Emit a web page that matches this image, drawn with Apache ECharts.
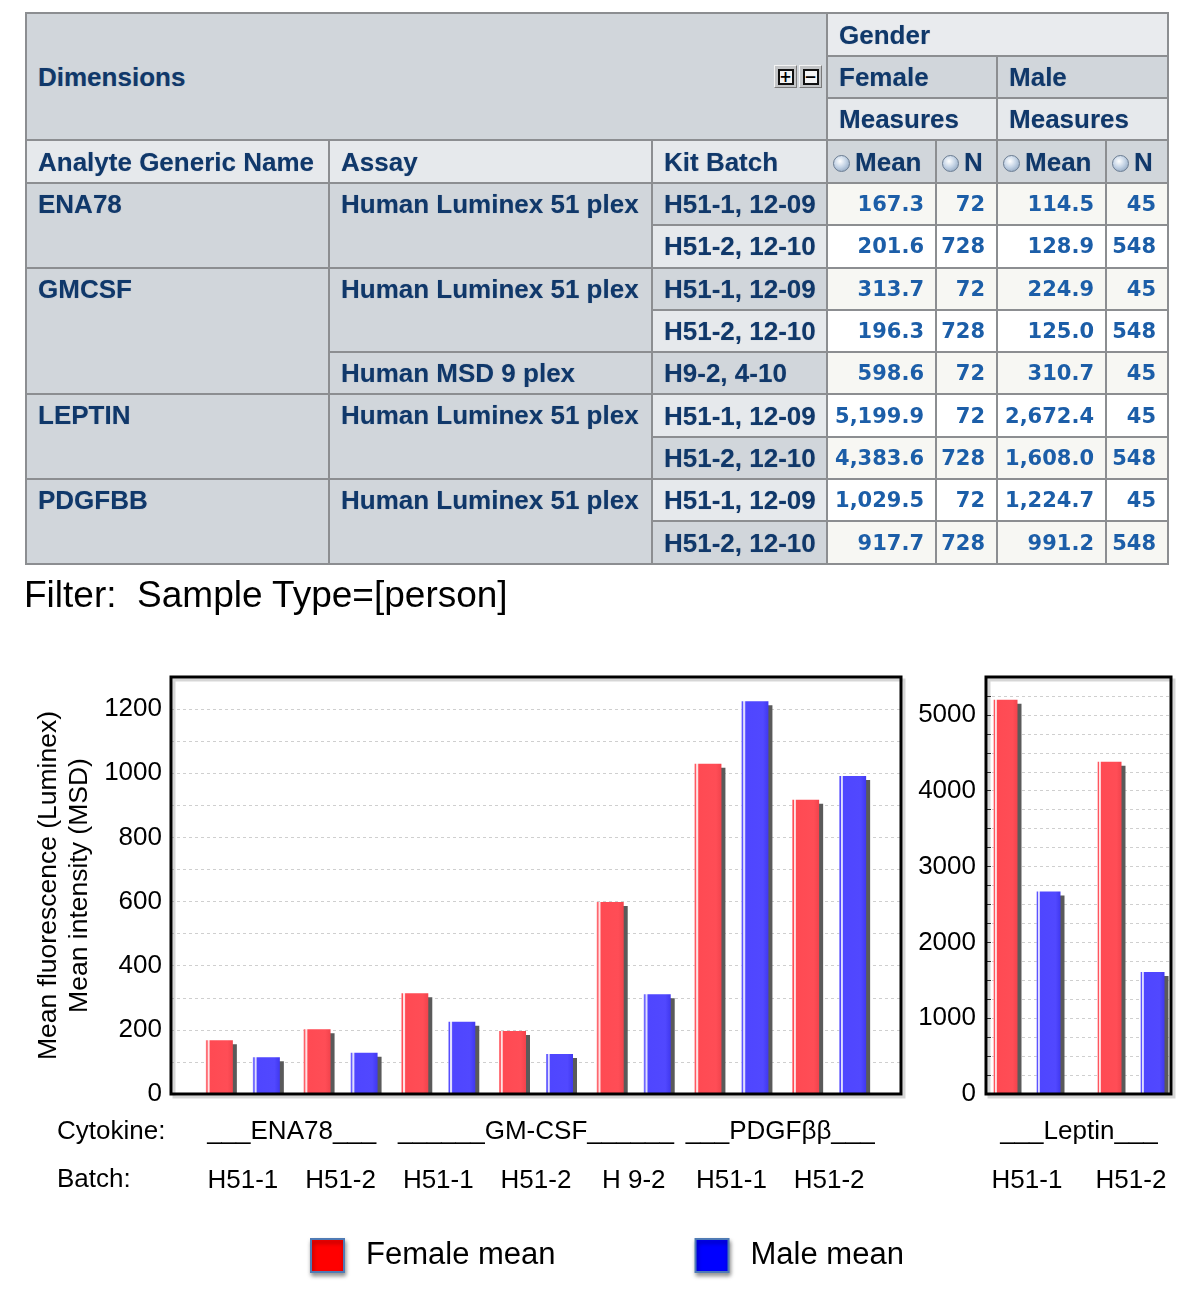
<!DOCTYPE html>
<html>
<head>
<meta charset="utf-8">
<script src="https://cdn.jsdelivr.net/npm/echarts@6/dist/echarts.min.js"></script>
<style>
html,body{margin:0;padding:0;background:#fff;width:1200px;height:1296px;overflow:hidden}
#chart{position:absolute;left:0;top:0;width:1200px;height:1296px}
#tbl{position:absolute;left:25px;top:12px;border-collapse:collapse;table-layout:fixed;width:1142px;
  font-family:"Liberation Sans",Arial,sans-serif;border:2px solid #6f7174}
#tbl td{border:2px solid #8c8e91;padding:0 0 0 11px;font-weight:bold;font-size:26px;color:#10386a;
  white-space:nowrap;overflow:hidden;line-height:38px;vertical-align:middle;text-shadow:0 0 1px rgba(16,56,106,0.35)}
#tbl td.dk{background:#d1d6db}
#tbl td.lt{background:#e6e9ec}
#tbl td.gd{background:#e9ebee}
#tbl td.top{vertical-align:top;line-height:40px}
#tbl td.v{font-family:"DejaVu Sans",Verdana,sans-serif;font-size:21px;color:#1c5ea8;text-align:right;padding:0 11px 0 0;text-shadow:none}
#tbl td.v1{background:#f7f7f3}
#tbl td.v2{background:#ffffff}
#tbl td.m{padding-left:5px}
.dimwrap{display:flex;justify-content:space-between;align-items:center;padding-right:4px}
.btns{display:flex;gap:2px}
.btn{display:inline-flex;width:23px;height:23px;background:#c4c6c8;border:1px solid;border-color:#f4f4f4 #7a7a7a #7a7a7a #f4f4f4;
  align-items:center;justify-content:center;box-sizing:border-box}
.btn i{display:flex;width:16px;height:16px;border:2px solid #111;background:#f4f4f4;box-sizing:border-box;align-items:center;justify-content:center;
  font-style:normal;font-family:"DejaVu Sans",sans-serif;font-size:15px;line-height:10px;color:#000;font-weight:bold;text-shadow:none}
.radio{display:inline-block;width:17px;height:17px;border-radius:50%;box-sizing:border-box;border:1px solid #6c7d92;
  background:radial-gradient(circle at 40% 35%,#ffffff 0%,#c5d4e6 45%,#7f97b3 100%);vertical-align:-1px;margin-right:5px}
#filter{position:absolute;left:24px;top:577px;font-family:"Liberation Sans",Arial,sans-serif;font-size:37px;line-height:36px;color:#000;white-space:pre}
</style>
</head>
<body>
<div id="chart"></div>
<table id="tbl"></table>
<div id="filter">Filter:  Sample Type=[person]</div>
<script>
// ---------------- data ----------------
const rowAnalyte  = ['ENA78','ENA78','GMCSF','GMCSF','GMCSF','LEPTIN','LEPTIN','PDGFBB','PDGFBB'];
const rowAssay    = ['Human Luminex 51 plex','Human Luminex 51 plex','Human Luminex 51 plex','Human Luminex 51 plex',
                     'Human MSD 9 plex','Human Luminex 51 plex','Human Luminex 51 plex','Human Luminex 51 plex','Human Luminex 51 plex'];
const rowKitBatch = ['H51-1, 12-09','H51-2, 12-10','H51-1, 12-09','H51-2, 12-10','H9-2, 4-10',
                     'H51-1, 12-09','H51-2, 12-10','H51-1, 12-09','H51-2, 12-10'];
const femaleMean  = [167.3, 201.6, 313.7, 196.3, 598.6, 5199.9, 4383.6, 1029.5, 917.7];
const femaleN     = [72, 728, 72, 728, 72, 72, 728, 72, 728];
const maleMean    = [114.5, 128.9, 224.9, 125.0, 310.7, 2672.4, 1608.0, 1224.7, 991.2];
const maleN       = [45, 548, 45, 548, 45, 45, 548, 45, 548];

// chart selections (row indices of the table)
const leftRows  = [0, 1, 2, 3, 4, 7, 8];
const rightRows = [5, 6];
const leftBatchLabels  = ['H51-1','H51-2','H51-1','H51-2','H 9-2','H51-1','H51-2'];
const rightBatchLabels = ['H51-1','H51-2'];
const cytokineLabels   = ['___ENA78___', '______GM-CSF______', '___PDGF\u03b2\u03b2___'];
const cytokineSpans    = [[0, 1], [2, 4], [5, 6]];
const rightCytokineLabel = '___Leptin___';
const leftTicks  = {max: 1300, minor: 100, major: 200};
const rightTicks = {max: 5500, minor: 250, major: 1000};
const seriesNames = ['Female mean', 'Male mean'];
const yAxisTitle = 'Mean fluorescence (Luminex)\nMean intensity (MSD)';

// ---------------- table ----------------
const colWidths = [303, 323, 175, 109, 61, 109, 62];
const fmt = v => v.toLocaleString('en-US', {minimumFractionDigits: 1, maximumFractionDigits: 1});
let h = '<colgroup>' + colWidths.map(w => `<col style="width:${w}px">`).join('') + '</colgroup>';
h += `<tr style="height:43px"><td class="dk" colspan="3" rowspan="3"><div class="dimwrap"><span>Dimensions</span>` +
     `<span class="btns"><span class="btn"><i>+</i></span><span class="btn"><i>\u2212</i></span></span></div></td>` +
     `<td class="gd" colspan="4">Gender</td></tr>`;
h += `<tr style="height:42px"><td class="dk" colspan="2">Female</td><td class="dk" colspan="2">Male</td></tr>`;
h += `<tr style="height:42px"><td class="lt" colspan="2">Measures</td><td class="lt" colspan="2">Measures</td></tr>`;
h += `<tr style="height:43px"><td class="lt">Analyte Generic Name</td><td class="lt">Assay</td><td class="lt">Kit Batch</td>` +
     `<td class="dk m"><span class="radio"></span>Mean</td><td class="dk m"><span class="radio"></span>N</td>` +
     `<td class="dk m"><span class="radio"></span>Mean</td><td class="dk m"><span class="radio"></span>N</td></tr>`;
for (let i = 0; i < rowAnalyte.length; i++) {
  let r = '<tr style="height:42.3px">';
  if (i === 0 || rowAnalyte[i] !== rowAnalyte[i - 1]) {
    let n = 1; while (i + n < rowAnalyte.length && rowAnalyte[i + n] === rowAnalyte[i]) n++;
    r += `<td class="dk top" rowspan="${n}">${rowAnalyte[i]}</td>`;
  }
  if (i === 0 || rowAnalyte[i] !== rowAnalyte[i - 1] || rowAssay[i] !== rowAssay[i - 1]) {
    let n = 1; while (i + n < rowAssay.length && rowAssay[i + n] === rowAssay[i] && rowAnalyte[i + n] === rowAnalyte[i]) n++;
    r += `<td class="dk top" rowspan="${n}">${rowAssay[i]}</td>`;
  }
  const vc = i % 2 === 0 ? 'v1' : 'v2';
  r += `<td class="${i % 2 === 0 ? 'dk' : 'lt'}">${rowKitBatch[i]}</td>`;
  r += `<td class="v ${vc}">${fmt(femaleMean[i])}</td><td class="v ${vc}">${femaleN[i]}</td>`;
  r += `<td class="v ${vc}">${fmt(maleMean[i])}</td><td class="v ${vc}">${maleN[i]}</td>`;
  r += '</tr>';
  h += r;
}
document.getElementById('tbl').innerHTML = h;

// ---------------- chart ----------------
const FONT = '"Liberation Sans", Arial, sans-serif';
const W = 1200, H = 1296;
const LP = {left: 171, right: 901, top: 677, bottom: 1094};   // left plot frame
const LB = {left: 194, right: 878};                           // left bar band area
const RP = {left: 986, right: 1171, top: 677, bottom: 1094};  // right plot frame
const RB = {left: 975, right: 1183};                          // right bar band area

const redFill = () => new echarts.graphic.LinearGradient(0, 0, 1, 0, [
  {offset: 0, color: '#ff9096'}, {offset: 0.05, color: '#ff4a53'}, {offset: 0.08, color: '#ffe2e4'},
  {offset: 0.12, color: '#ffe2e4'}, {offset: 0.16, color: '#ff4a53'}, {offset: 0.8, color: '#ff4d56'}, {offset: 1, color: '#f2434c'}]);
const blueFill = () => new echarts.graphic.LinearGradient(0, 0, 1, 0, [
  {offset: 0, color: '#9a94ff'}, {offset: 0.05, color: '#4f46ff'}, {offset: 0.08, color: '#e0deff'},
  {offset: 0.12, color: '#e0deff'}, {offset: 0.16, color: '#4f46ff'}, {offset: 0.8, color: '#5148ff'}, {offset: 1, color: '#4038ef'}]);

// bar drawn through the axes: band centre from api.coord, width in px, plus a drop shadow
function barItem(barW, gap, side, fillFn) {
  return function (params, api) {
    const base = api.coord([api.value(0), 0]);
    const top = api.coord([api.value(0), api.value(1)]);
    const x = base[0] + side * (barW + gap) / 2 - barW / 2;
    const hgt = base[1] - top[1];
    return {
      type: 'group',
      children: [
        {type: 'rect', shape: {x: x + 4, y: top[1] + 4, width: barW, height: Math.max(0, hgt - 4)},
         style: {fill: '#5a5a5a'}},
        {type: 'rect', shape: {x: x, y: top[1], width: barW, height: hgt}, style: {fill: fillFn()}}
      ]
    };
  };
}

function gridOf(p, b) {
  return {left: b ? b.left : p.left, right: W - (b ? b.right : p.right), top: p.top, bottom: H - p.bottom,
          show: false, containLabel: false, outerBoundsMode: 'none'};
}
const hiddenValueY = (gi, max) => ({gridIndex: gi, type: 'value', min: 0, max: max, show: false});
const batchAxis = (gi, data) => ({gridIndex: gi, type: 'category', data: data, axisLine: {show: false}, axisTick: {show: false},
  splitLine: {show: false}, axisLabel: {interval: 0, margin: 74, fontSize: 26, color: '#000', fontFamily: FONT}});

const option = {
  animation: false,
  backgroundColor: 'transparent',
  textStyle: {fontFamily: FONT},
  grid: [gridOf(LP), gridOf(LP, LB), gridOf(RP), gridOf(RP, RB)],
  xAxis: [
    {gridIndex: 0, type: 'value', min: 0, max: 1, show: false},
    batchAxis(1, leftBatchLabels),
    {gridIndex: 2, type: 'value', min: 0, max: 1, show: false},
    batchAxis(3, rightBatchLabels)
  ],
  yAxis: [
    {gridIndex: 0, type: 'value', min: 0, max: leftTicks.max, interval: leftTicks.minor,
     axisLine: {show: false}, axisTick: {show: false},
     axisLabel: {fontSize: 26, color: '#000', margin: 9, fontFamily: FONT, showMaxLabel: true, showMinLabel: true,
                 formatter: v => (v % leftTicks.major === 0 ? String(v) : '')},
     splitLine: {show: true, lineStyle: {color: '#cfcfcf', width: 1, type: [3, 3]}},
     name: yAxisTitle, nameLocation: 'middle', nameRotate: 90, nameGap: 76, nameMoveOverlap: false,
     nameTextStyle: {fontSize: 26.5, lineHeight: 31, color: '#000', fontFamily: FONT, align: 'center'}},
    hiddenValueY(1, leftTicks.max),
    {gridIndex: 2, type: 'value', min: 0, max: rightTicks.max, interval: rightTicks.minor,
     axisLine: {show: false}, axisTick: {show: true, inside: true, length: 5, lineStyle: {color: '#333', width: 1}},
     axisLabel: {fontSize: 26, color: '#000', margin: 10, fontFamily: FONT, showMaxLabel: true, showMinLabel: true,
                 formatter: v => (v % rightTicks.major === 0 ? String(v) : '')},
     splitLine: {show: true, lineStyle: {color: '#cfcfcf', width: 1, type: [3, 3]}}},
    hiddenValueY(3, rightTicks.max)
  ],
  legend: {
    left: 305, top: 1233, itemWidth: 33, itemHeight: 33, itemGap: 139, icon: 'rect',
    textStyle: {fontSize: 31, color: '#000', fontFamily: FONT, padding: [0, 0, 0, 17]},
    data: [
      {name: seriesNames[0], itemStyle: {color: '#ff0000', borderColor: '#4f7bb5', borderWidth: 2,
        shadowColor: 'rgba(0,0,0,0.4)', shadowBlur: 4, shadowOffsetX: 1, shadowOffsetY: 3}},
      {name: seriesNames[1], itemStyle: {color: '#0000ff', borderColor: '#4f7bb5', borderWidth: 2,
        shadowColor: 'rgba(0,0,0,0.4)', shadowBlur: 4, shadowOffsetX: 1, shadowOffsetY: 3}}
    ]
  },
  series: [
    {name: seriesNames[0], type: 'custom', xAxisIndex: 1, yAxisIndex: 1, encode: {x: 0, y: 1},
     data: leftRows.map((r, k) => [k, femaleMean[r]]), renderItem: barItem(27, 20, -1, redFill),
     itemStyle: {color: '#ff4a53'}},
    {name: seriesNames[1], type: 'custom', xAxisIndex: 1, yAxisIndex: 1, encode: {x: 0, y: 1},
     data: leftRows.map((r, k) => [k, maleMean[r]]), renderItem: barItem(27, 20, 1, blueFill),
     itemStyle: {color: '#4f46ff'}},
    {name: seriesNames[0], type: 'custom', xAxisIndex: 3, yAxisIndex: 3, encode: {x: 0, y: 1},
     data: rightRows.map((r, k) => [k, femaleMean[r]]), renderItem: barItem(24, 19, -1, redFill),
     itemStyle: {color: '#ff4a53'}},
    {name: seriesNames[1], type: 'custom', xAxisIndex: 3, yAxisIndex: 3, encode: {x: 0, y: 1},
     data: rightRows.map((r, k) => [k, maleMean[r]]), renderItem: barItem(24, 19, 1, blueFill),
     itemStyle: {color: '#4f46ff'}}
  ]
};

const chart = echarts.init(document.getElementById('chart'), null, {renderer: 'canvas', width: W, height: H});
chart.setOption(option);

// frames and cytokine row derived from the axes
const graphics = [];
[LP, RP].forEach(p => {
  graphics.push({type: 'rect', z: 55, silent: true,
    shape: {x: p.left + 3, y: p.top + 3, width: p.right - p.left, height: p.bottom - p.top},
    style: {fill: null, stroke: 'rgba(0,0,0,0.16)', lineWidth: 3}});
  graphics.push({type: 'rect', z: 60, silent: true,
    shape: {x: p.left, y: p.top, width: p.right - p.left, height: p.bottom - p.top},
    style: {fill: null, stroke: '#000', lineWidth: 3}});
});
const rowY1 = LP.bottom + 38;
const rowY2 = LP.bottom + 86;
const txt = (x, y, s, align) => ({type: 'text', z: 70, silent: true, x: x, y: y,
  style: {text: s, fontSize: 26, fontFamily: FONT, fill: '#000', align: align, verticalAlign: 'middle'}});
graphics.push(txt(57, rowY1, 'Cytokine:', 'left'));
graphics.push(txt(57, rowY2, 'Batch:', 'left'));
cytokineSpans.forEach((sp, k) => {
  const a = chart.convertToPixel({xAxisIndex: 1}, sp[0]);
  const b = chart.convertToPixel({xAxisIndex: 1}, sp[1]);
  graphics.push(txt((a + b) / 2, rowY1, cytokineLabels[k], 'center'));
});
{
  const a = chart.convertToPixel({xAxisIndex: 3}, 0);
  const b = chart.convertToPixel({xAxisIndex: 3}, rightBatchLabels.length - 1);
  graphics.push(txt((a + b) / 2, rowY1, rightCytokineLabel, 'center'));
}
chart.setOption({graphic: graphics});
</script>
</body>
</html>
